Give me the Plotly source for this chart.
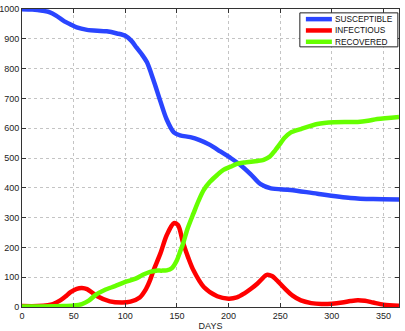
import plotly.graph_objects as go

# epidemic curves (days, people)
s_days = [0, 10, 20, 27, 33, 40, 47, 53, 63, 82, 92, 100, 106, 111, 116, 121, 127, 134, 140, 147,
          153, 163, 172, 182, 192, 202, 212, 221, 231, 241, 260, 286, 318, 340, 365]
susceptible = [999, 998, 994, 989, 978, 961, 948, 938, 930, 925, 918, 910, 893, 870, 848, 821, 764, 690, 630, 586,
               576, 570, 560, 544, 522, 500, 475, 447, 412, 398, 393, 380, 366, 362, 361]

i_days = [0, 15, 25, 30, 37, 42, 47, 53, 58, 63, 72, 85, 97, 105, 114, 120, 124, 127, 134, 140, 147,
          151, 156, 161, 166, 176, 189, 200, 208, 215, 222, 228, 237, 242, 248, 255, 262, 270, 280,
          290, 300, 310, 318, 325, 332, 340, 350, 365]
infectious = [3, 3, 6, 10, 22, 35, 50, 61, 64, 60, 38, 19, 15, 18, 32, 60, 90, 120, 180, 240, 281,
              275, 215, 165, 123, 67, 36, 28, 32, 45, 62, 79, 108, 104, 85, 60, 38, 22, 13,
              10, 11, 15, 20, 23, 21, 15, 8, 4]

r_days = [0, 20, 40, 50, 58, 65, 71, 80, 90, 100, 110, 117, 124, 130, 135, 140, 145, 150, 153, 156,
          160, 166, 171, 176, 182, 189, 195, 202, 208, 215, 228, 234, 240, 245, 250, 254, 260, 270,
          286, 302, 325, 335, 344, 365]
recovered = [2, 2, 3, 5, 10, 22, 40, 57, 70, 84, 95, 108, 118, 122, 122, 123, 130, 157, 185, 213,
             260, 314, 357, 393, 420, 443, 460, 471, 480, 485, 490, 494, 505, 525, 548, 567, 585, 597,
             614, 620, 621, 625, 631, 638]

series_names = ["SUSCEPTIBLE", "INFECTIOUS", "RECOVERED"]
series_colors = ["#2a45ff", "#ff0000", "#66ff00"]

x_ticks = list(range(0, 351, 50))
y_ticks = list(range(0, 1001, 100))

fig = go.Figure()
for name, xs, ys, col in zip(series_names, [s_days, i_days, r_days],
                             [susceptible, infectious, recovered], series_colors):
    fig.add_trace(go.Scatter(x=xs, y=ys, mode="lines", name=name, showlegend=False,
                             line=dict(color=col, width=4.5, shape="spline", smoothing=0.8)))

# matlab-like legend box in the top right corner
fig.add_shape(type="rect", xref="paper", yref="paper", x0=0.737, x1=0.997, y0=0.873, y1=0.987,
              line=dict(color="#222", width=1), fillcolor="white", layer="above")
for k, (name, col) in enumerate(zip(series_names, series_colors)):
    yy = 0.966 - k * 0.038
    fig.add_shape(type="line", xref="paper", yref="paper", x0=0.753, x1=0.822, y0=yy, y1=yy,
                  line=dict(color=col, width=4.5), layer="above")
    fig.add_annotation(xref="paper", yref="paper", x=0.826, y=yy, text=name, showarrow=False,
                       xanchor="left", yanchor="middle", font=dict(size=8.3, color="#111"))

axis_style = dict(showline=True, linecolor="#333", linewidth=1, mirror="ticks",
                  ticks="inside", ticklen=4, tickcolor="#333", automargin=False,
                  showgrid=True, gridcolor="#c4c4c4", griddash="dot", gridwidth=1,
                  zeroline=False, tickfont=dict(size=9, color="#222"))

fig.update_xaxes(range=[0, 365], tickvals=x_ticks, title=dict(text="DAYS", standoff=0, font=dict(size=9)),
                 **axis_style)
fig.update_yaxes(range=[0, 1000], tickvals=y_ticks, **axis_style)

fig.update_layout(
    width=405, height=331,
    margin=dict(l=22, r=6, t=9, b=24),
    paper_bgcolor="white", plot_bgcolor="white",
    font=dict(family="Liberation Sans, Arial, sans-serif", size=9, color="#222"),
)

# drop the browser's default body margin so the figure sits at the page corner
fig.write_html("out.html", config={"displayModeBar": False},
               post_script="document.body.style.margin='0';")
